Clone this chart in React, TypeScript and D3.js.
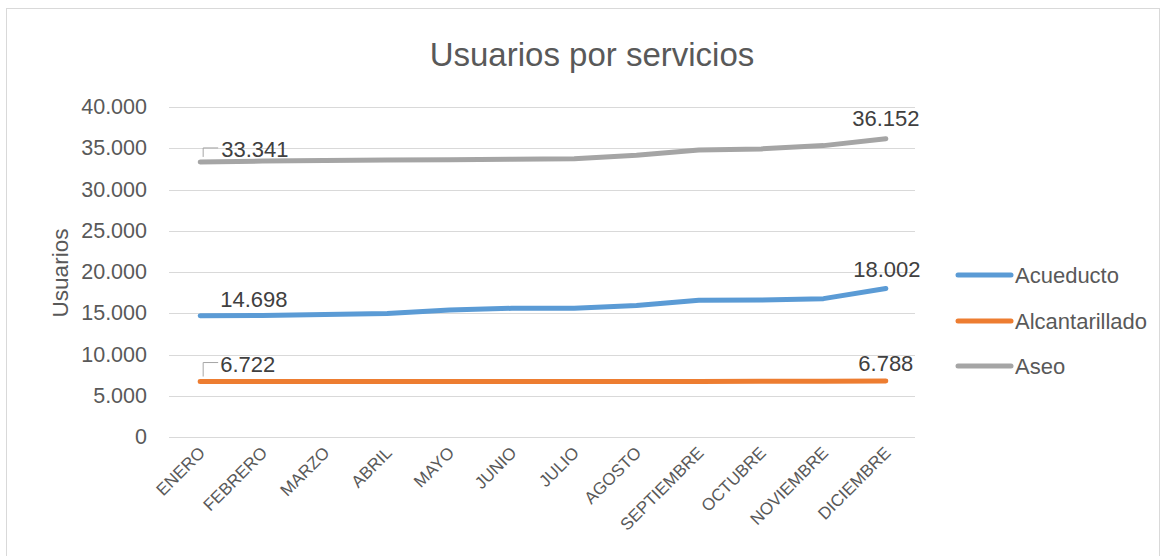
import React from "react";
import * as d3 from "d3";

const months = ["ENERO","FEBRERO","MARZO","ABRIL","MAYO","JUNIO","JULIO","AGOSTO","SEPTIEMBRE","OCTUBRE","NOVIEMBRE","DICIEMBRE"];
const acueducto = [14698,14720,14840,14960,15400,15600,15600,15930,16570,16610,16770,18002];
const alcantarillado = [6722,6730,6735,6735,6740,6735,6720,6735,6740,6760,6750,6788];
const aseo = [33341,33450,33520,33580,33600,33660,33730,34150,34780,34920,35320,36152];
const yTicks = [0,5000,10000,15000,20000,25000,30000,35000,40000];
const seriesNames = ["Acueducto","Alcantarillado","Aseo"];
const seriesColors = ["#5b9bd5","#ed7d31","#a5a5a5"];

const FONT = "'Liberation Sans', Arial, sans-serif";

function fmt(v: number): string {
  return v === 0 ? "0" : d3.format(",")(v).replace(/,/g, ".");
}

export default function App() {
  const W = 1164, H = 556;
  const x = d3.scaleBand<string>().domain(months).range([169, 917]).padding(0);
  const y = d3.scaleLinear().domain([0, 40000]).range([437, 107]);
  const cx = (i: number) => (x(months[i]) as number) + x.bandwidth() / 2;
  const line = d3.line<number>().x((_, i) => cx(i)).y((d) => y(d));
  const series = [acueducto, alcantarillado, aseo];
  const last = months.length - 1;

  const labels: { s: number; i: number; leader: boolean; anchor: string; dx: number; dy: number }[] = [
    { s: 2, i: 0, leader: true, anchor: "start", dx: 21, dy: -12 },
    { s: 2, i: last, leader: false, anchor: "middle", dx: 0, dy: -20 },
    { s: 0, i: 0, leader: false, anchor: "start", dx: 20, dy: -16 },
    { s: 0, i: last, leader: false, anchor: "middle", dx: 1, dy: -19 },
    { s: 1, i: 0, leader: true, anchor: "start", dx: 20, dy: -17 },
    { s: 1, i: last, leader: false, anchor: "middle", dx: 0, dy: -17 },
  ];

  return (
    <svg width={W} height={H} style={{ position: "absolute", left: 0, top: 0, background: "#fff" }} fontFamily={FONT}>
      <rect x={0} y={0} width={W} height={H} fill="#fff" />
      <rect x={6.5} y={8.5} width={1153} height={600} fill="#fff" stroke="#d9d9d9" strokeWidth={1} />
      <text x={592} y={54} textAnchor="middle" dominantBaseline="central" fontSize={33} fill="#595959">Usuarios por servicios</text>

      {yTicks.map((t) => (
        <g key={t}>
          <line x1={169} x2={915} y1={Math.round(y(t)) + 0.5} y2={Math.round(y(t)) + 0.5} stroke="#d9d9d9" strokeWidth={1.2} />
          <text x={147} y={y(t)} textAnchor="end" dominantBaseline="central" fontSize={21.5} fill="#595959">{fmt(t)}</text>
        </g>
      ))}

      <text transform={`translate(60,273) rotate(-90)`} textAnchor="middle" dominantBaseline="central" fontSize={22.5} fill="#595959">Usuarios</text>

      {months.map((m, i) => (
        <text key={m} transform={`translate(${cx(i) + 2},${450}) rotate(-45)`} textAnchor="end" dominantBaseline="central" fontSize={17} fill="#595959">{m}</text>
      ))}

      {series.map((s, k) => (
        <path key={k} d={line(s) as string} fill="none" stroke={seriesColors[k]} strokeWidth={5} strokeLinecap="round" strokeLinejoin="round" />
      ))}

      {labels.map((l, k) => {
        const px = cx(l.i), py = y(series[l.s][l.i]);
        const ly = py + l.dy;
        return (
          <g key={k}>
            {l.leader && (
              <polyline points={`${px + 3},${py - 5} ${px + 3},${ly - 2} ${px + 18},${ly - 2}`} fill="none" stroke="#a6a6a6" strokeWidth={1} />
            )}
            <text x={px + l.dx} y={ly} textAnchor={l.anchor} dominantBaseline="central" fontSize={22} fill="#404040">{fmt(series[l.s][l.i])}</text>
          </g>
        );
      })}

      {seriesNames.map((n, k) => {
        const ly = [275, 321, 366][k];
        return (
          <g key={n}>
            <line x1={958} x2={1011} y1={ly} y2={ly} stroke={seriesColors[k]} strokeWidth={5} strokeLinecap="round" />
            <text x={1015} y={ly} dominantBaseline="central" fontSize={22} fill="#595959">{n}</text>
          </g>
        );
      })}
    </svg>
  );
}
